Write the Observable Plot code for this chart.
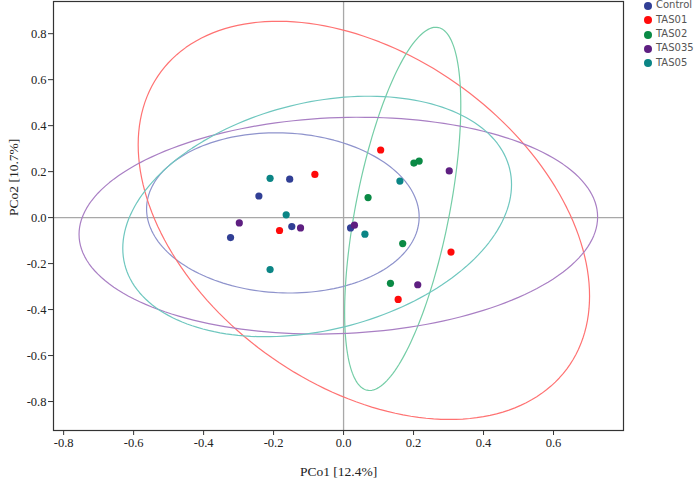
<!DOCTYPE html>
<html>
<head>
<meta charset="utf-8">
<script src="https://cdn.jsdelivr.net/npm/d3@7"></script>
<script src="https://cdn.jsdelivr.net/npm/@observablehq/plot@0.6"></script>
<style>
  html, body { margin: 0; padding: 0; background: #fff; }
  #wrap { position: relative; width: 694px; height: 483px; }
  #wrap svg text { font-family: "Liberation Serif", "Times New Roman", serif; }
  #legend { position: absolute; left: 0; top: 0; width: 694px; height: 483px; pointer-events: none; }
  .key { position: absolute; font-family: "DejaVu Sans", Verdana, sans-serif; font-size: 10px; color: #555; line-height: 12px; white-space: nowrap; }
  .sw { position: absolute; width: 8px; height: 8px; border-radius: 50%; }
</style>
</head>
<body>
<div id="wrap"><div id="legend"></div></div>
<script>
// Sample groups
const groups = ["Control", "TAS01", "TAS02", "TAS035", "TAS05"];
const pointColors = ["#313f95", "#ff0a0a", "#0a8a45", "#5e1f81", "#0b8585"];
const ellipseColors = ["#8e93cc", "#ff7272", "#74cda6", "#a97fc4", "#6fc7bf"];

// PCoA scores [PCo1, PCo2] for each sample
const control = [[-0.154, 0.167], [-0.242, 0.094], [-0.148, -0.039], [-0.323, -0.087], [0.020, -0.045]];
const tas01 = [[-0.082, 0.188], [-0.183, -0.056], [0.106, 0.294], [0.307, -0.150], [0.156, -0.356]];
const tas02 = [[0.070, 0.087], [0.201, 0.237], [0.216, 0.246], [0.169, -0.113], [0.134, -0.286]];
const tas035 = [[-0.298, -0.023], [-0.123, -0.045], [0.031, -0.033], [0.302, 0.203], [0.212, -0.292]];
const tas05 = [[-0.210, 0.171], [-0.164, 0.012], [0.061, -0.072], [0.161, 0.159], [-0.210, -0.226]];
const scores = [control, tas01, tas02, tas035, tas05];

// Confidence ellipses: centre, half-extent along each axis, and correlation
const ellipseCx = [-0.1735, 0.058, 0.169, -0.015, -0.0755];
const ellipseCy = [0.0205, -0.012, 0.038, -0.035, 0.005];
const ellipseWx = [0.3895, 0.645, 0.166, 0.741, 0.5555];
const ellipseWy = [0.3485, 0.866, 0.790, 0.4715, 0.523];
const ellipseR = [-0.05, -0.38, 0.57, 0.08, 0.265];

// Axis ticks
const xTicks = [-0.8, -0.6, -0.4, -0.2, 0.0, 0.2, 0.4, 0.6];
const yTicks = [-0.8, -0.6, -0.4, -0.2, 0.0, 0.2, 0.4, 0.6, 0.8];

const points = groups.flatMap((g, i) => scores[i].map(([x, y]) => ({group: g, x, y})));

// Outline of each ellipse: x = cx + wx cos t, y = cy + wy (r cos t + sqrt(1 - r^2) sin t)
const outline = groups.flatMap((g, i) => {
  const n = 180, r = ellipseR[i], s = Math.sqrt(1 - r * r);
  return d3.range(n).map(k => {
    const t = 2 * Math.PI * k / n;
    return {
      group: g,
      x: ellipseCx[i] + ellipseWx[i] * Math.cos(t),
      y: ellipseCy[i] + ellipseWy[i] * (r * Math.cos(t) + s * Math.sin(t))
    };
  });
});

const fmt = d => d.toFixed(1);
const serif = "'Liberation Serif', 'Times New Roman', serif";

const chart = Plot.plot({
  width: 694,
  height: 483,
  marginLeft: 53,
  marginRight: 71,
  marginTop: 1,
  marginBottom: 53,
  style: {fontFamily: serif, fontSize: "12px", color: "#333", background: "#fff"},
  x: {domain: [-0.829, 0.8]},
  y: {domain: [-0.926, 0.94]},
  color: {domain: groups, range: pointColors},
  marks: [
    Plot.ruleX([0], {stroke: "#a8a8a8", strokeWidth: 1.3}),
    Plot.ruleY([0], {stroke: "#a8a8a8", strokeWidth: 1.3}),
    groups.map((g, i) => Plot.line(outline.filter(d => d.group === g), {
      x: "x", y: "y", curve: "linear-closed", stroke: ellipseColors[i], strokeWidth: 1.2
    })),
    Plot.dot(points, {x: "x", y: "y", fill: "group", r: 3.6}),
    Plot.frame({stroke: "#333", strokeWidth: 1.2}),
    Plot.axisX(xTicks, {tickFormat: fmt, tickSize: 5, tickPadding: 3, stroke: "#333", fill: "#222", fontSize: 12.5, label: null}),
    Plot.axisY(yTicks, {tickFormat: fmt, tickSize: 5, tickPadding: 2, stroke: "#333", fill: "#222", fontSize: 12.5, label: null}),
    Plot.text(["PCo1 [12.4%]"], {frameAnchor: "bottom", dy: 45, fontSize: 13.5, fill: "#222"}),
    Plot.text(["PCo2 [10.7%]"], {frameAnchor: "left", dx: -40, rotate: -90, fontSize: 13.5, fill: "#222"})
  ]
});

document.getElementById("wrap").prepend(chart);

// Legend at the top right
const legend = document.getElementById("legend");
groups.forEach((g, i) => {
  const cy = 5.7 + 14.4 * i;
  const sw = document.createElement("div");
  sw.className = "sw";
  sw.style.left = (647.7 - 4) + "px";
  sw.style.top = (cy - 4) + "px";
  sw.style.background = pointColors[i];
  legend.appendChild(sw);
  const lab = document.createElement("div");
  lab.className = "key";
  lab.style.left = "656px";
  lab.style.top = (cy - 6.5) + "px";
  lab.textContent = g;
  legend.appendChild(lab);
});
</script>
</body>
</html>
